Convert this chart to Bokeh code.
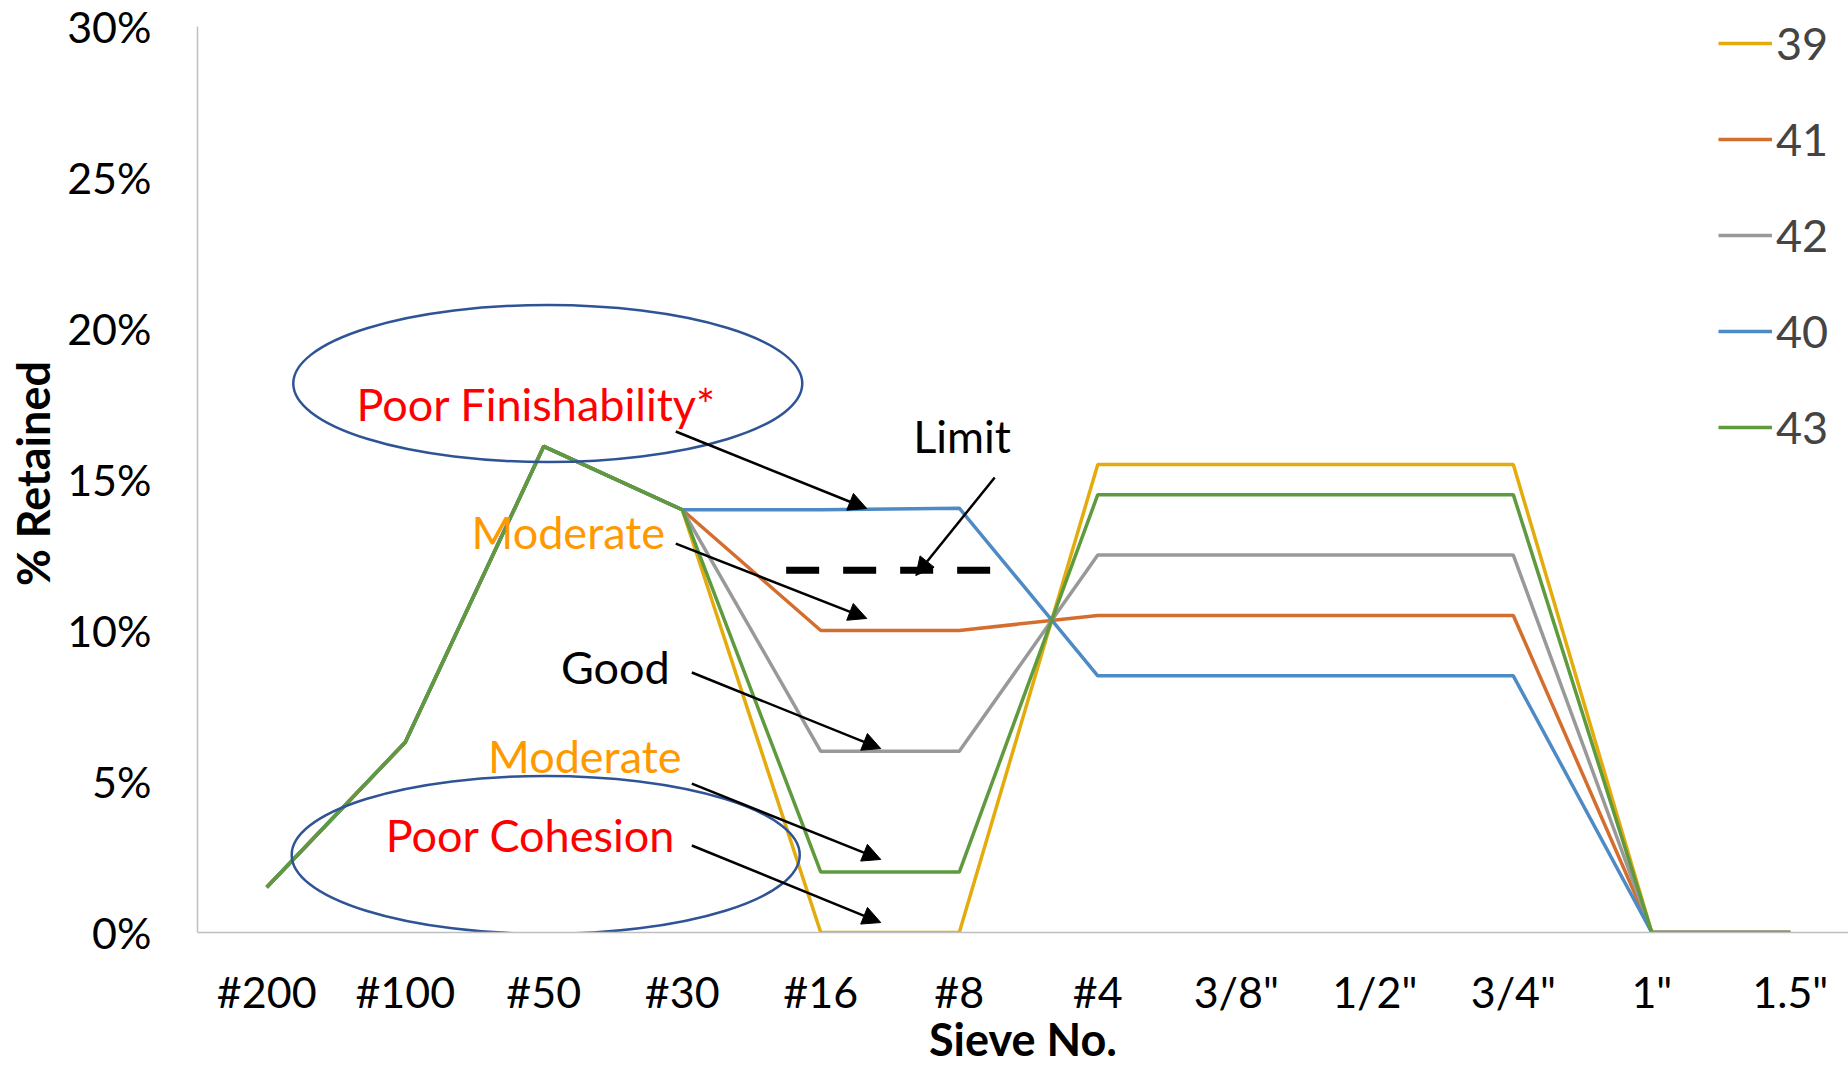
from bokeh.plotting import figure
from bokeh.models import (Range1d, FixedTicker, Legend, LegendItem, Arrow, NormalHead)
from bokeh.core.properties import value
from bokeh.embed import file_html
from bokeh.resources import INLINE

# Sieve sizes (x axis categories)
sieves = ['#200', '#100', '#50', '#30', '#16', '#8', '#4', '3/8"', '1/2"', '3/4"', '1"', '1.5"']

# Percent retained on each sieve, per mix
mix_39 = [1.5, 6.3, 16.1, 14.0, 0.0, 0.0, 15.5, 15.5, 15.5, 15.5, 0.0, 0.0]
mix_41 = [1.5, 6.3, 16.1, 14.0, 10.0, 10.0, 10.5, 10.5, 10.5, 10.5, 0.0, 0.0]
mix_42 = [1.5, 6.3, 16.1, 14.0, 6.0, 6.0, 12.5, 12.5, 12.5, 12.5, 0.0, 0.0]
mix_40 = [1.5, 6.3, 16.1, 14.0, 14.0, 14.05, 8.5, 8.5, 8.5, 8.5, 0.0, 0.0]
mix_43 = [1.5, 6.3, 16.1, 14.0, 2.0, 2.0, 14.5, 14.5, 14.5, 14.5, 0.0, 0.0]

series_names = ['39', '41', '42', '40', '43']
series_values = [mix_39, mix_41, mix_42, mix_40, mix_43]
series_colors = ['#E3AC0C', '#D46E2E', '#999999', '#4E8AC3', '#5F9B3E']

# Upper limit marked on the #16 - #8 span
limit_value = 12.0
limit_span = [3.75, 5.27]

# Zone labels: text, x (centre), y (middle), colour
zone_text = ['Poor Finishability*', 'Limit', 'Moderate', 'Good', 'Moderate', 'Poor Cohesion']
zone_x = [1.946, 5.02, 2.177, 2.517, 2.296, 1.904]
zone_y = [17.50, 16.43, 13.25, 8.80, 5.83, 3.22]
zone_color = ['#FF0000', '#000000', '#FF9900', '#000000', '#FF9900', '#FF0000']

# Pointer arrows from labels to curves
arrow_x0 = [2.953, 5.256, 2.953, 3.069, 3.069, 3.069]
arrow_y0 = [16.59, 15.07, 12.88, 8.61, 4.93, 2.88]
arrow_x1 = [4.332, 4.686, 4.332, 4.433, 4.433, 4.433]
arrow_y1 = [14.04, 11.82, 10.40, 6.09, 2.42, 0.33]

# Ellipses around the two "poor" zones
ell_x = [2.029, 2.014]
ell_y = [18.18, 2.57]
ell_w = [3.675, 3.668]
ell_h = [5.2, 5.23]

FONT = "Lato"
x_idx = list(range(len(sieves)))
y_ticks = [0, 5, 10, 15, 20, 25, 30]

# a little headroom above 30% so the legend's first row is not clipped;
# the axis line itself stops at 30% through its bounds
p = figure(width=1848, height=1069,
           x_range=Range1d(-0.5, 11.42), y_range=Range1d(0, 30.4),
           output_backend="svg", toolbar_location=None,
           min_border_left=197, min_border_right=0,
           min_border_top=14, min_border_bottom=137)
p.outline_line_color = None
p.xgrid.visible = False
p.ygrid.visible = False
p.background_fill_color = "white"
p.border_fill_color = "white"

items = []
for name, vals, col in zip(series_names, series_values, series_colors):
    r = p.line(x_idx, vals, line_color=col, line_width=3.5)
    items.append(LegendItem(label=name, renderers=[r]))

# limit line
p.line(limit_span, [limit_value, limit_value], line_color="black",
       line_width=7, line_dash="33 24")

# ellipses
p.ellipse(x=ell_x, y=ell_y, width=ell_w, height=ell_h,
          fill_alpha=0, line_color="#2F5496", line_width=2.5)

# arrows
for x0, y0, x1, y1 in zip(arrow_x0, arrow_y0, arrow_x1, arrow_y1):
    p.add_layout(Arrow(x_start=x0, y_start=y0, x_end=x1, y_end=y1,
                       line_color="black", line_width=2.5,
                       end=NormalHead(size=18, fill_color="black", line_color="black")))

p.text(x=zone_x, y=zone_y, text=zone_text, text_color=zone_color,
       text_font=value(FONT), text_font_size="45px",
       text_align="center", text_baseline="middle")

# axes
p.xaxis.ticker = FixedTicker(ticks=x_idx)
p.xaxis.major_label_overrides = {i: s for i, s in zip(x_idx, sieves)}
p.yaxis.ticker = FixedTicker(ticks=y_ticks)
p.yaxis.major_label_overrides = {v: f"{v}%" for v in y_ticks}
p.yaxis.bounds = (0, 30)
p.xaxis.axis_label = "Sieve No."
p.yaxis.axis_label = "% Retained"
for ax in (p.xaxis[0], p.yaxis[0]):
    ax.axis_line_color = "#BFBFBF"
    ax.axis_line_width = 1.5
    ax.major_tick_line_color = None
    ax.minor_tick_line_color = None
    ax.major_tick_out = 0
    ax.major_tick_in = 0
    ax.minor_tick_out = 0
    ax.minor_tick_in = 0
    ax.major_label_text_font = FONT
    ax.major_label_text_font_size = "43px"
    ax.major_label_text_color = "black"
    ax.axis_label_text_font = FONT
    ax.axis_label_text_font_size = "45px"
    ax.axis_label_text_font_style = "bold"
    ax.axis_label_text_color = "black"
p.xaxis.major_label_standoff = 33
p.xaxis.axis_label_standoff = -8
p.yaxis.major_label_standoff = 46
p.yaxis.axis_label_standoff = 4

legend = Legend(items=items, location=(1521, 478),
                glyph_width=54, glyph_height=50, label_height=50,
                label_standoff=4, spacing=42, padding=0, margin=0,
                label_text_font=FONT, label_text_font_size="45px",
                border_line_color=None, background_fill_alpha=0)
p.add_layout(legend)

open("out.html", "w").write(file_html(p, INLINE))
